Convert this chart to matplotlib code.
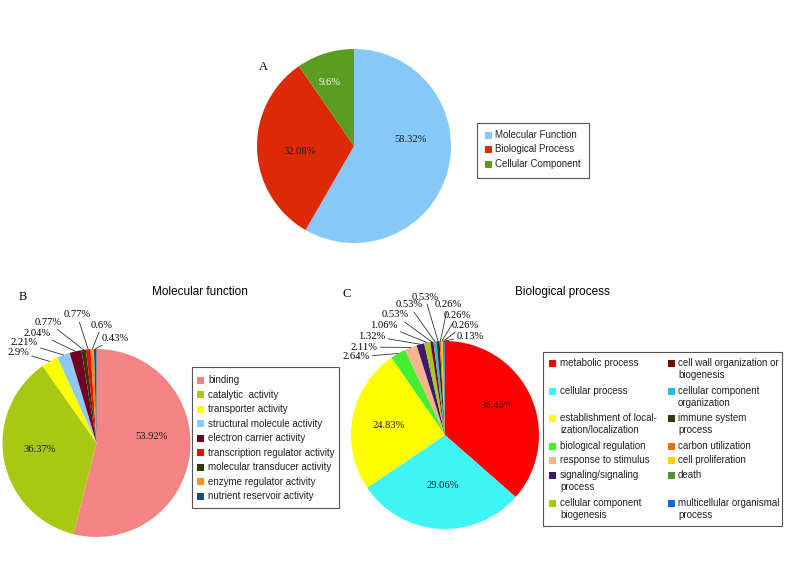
import numpy as np
import matplotlib
matplotlib.use('Agg')
import matplotlib.pyplot as plt
from matplotlib.patches import Rectangle

# ---- data ----
overview_labels = ['Molecular Function', 'Biological Process', 'Cellular Component']
overview_values = [58.32, 32.08, 9.6]
overview_colors = ['#86c9f9', '#dc2a06', '#5b9d21']

mf_labels = ['binding', 'catalytic  activity', 'transporter activity',
             'structural molecule activity', 'electron carrier activity',
             'transcription regulator activity', 'molecular transducer activity',
             'enzyme regulator activity', 'nutrient reservoir activity']
mf_values = [53.92, 36.37, 2.9, 2.21, 2.04, 0.77, 0.77, 0.6, 0.43]
mf_colors = ['#f48484', '#a9c814', '#ffff00', '#8ec9f6', '#720022',
             '#ff0000', '#2e3a0c', '#f7941d', '#1b4a8a']
mf_pie_order = [0, 1, 2, 3, 4, 6, 5, 7, 8]  # slice order seen in the pie

bp_labels = ['metabolic process', 'cellular process',
             'establishment of local-\nization/localization', 'biological regulation',
             'response to stimulus', 'signaling/signaling\nprocess',
             'cellular component\nbiogenesis',
             'cell wall organization or\nbiogenesis', 'cellular component\norganization',
             'immune system\nprocess', 'carbon utilization', 'cell proliferation',
             'death', 'multicellular organismal\nprocess']
bp_values = [36.46, 29.06, 24.83, 2.64, 2.11, 1.32, 1.06,
             0.53, 0.53, 0.53, 0.26, 0.26, 0.26, 0.13]
bp_colors = ['#ff0000', '#40f4f4', '#ffff00', '#44ee33', '#f8b48e', '#3b1b6e',
             '#a8c814', '#7a0000', '#2eb8e0', '#2c3c10', '#f06a10', '#ffcc22',
             '#5a9030', '#1068d0']

W, H = 785, 588
SERIF = 'Liberation Serif'
SANS = 'Liberation Sans'

fig = plt.figure(figsize=(W / 100, H / 100), dpi=100)
fig.patch.set_facecolor('white')

# overlay in pixel units for legends and titles
ov = fig.add_axes([0, 0, 1, 1])
ov.set_xlim(0, W)
ov.set_ylim(H, 0)
ov.axis('off')


def draw_pie(cx, cy, r, values, colors, inner_pos, inner_colors, outer_pos):
    ax = fig.add_axes([(cx - r) / W, 1 - (cy + r) / H, 2 * r / W, 2 * r / H])
    wedges, _ = ax.pie(values, colors=colors, startangle=90, counterclock=False,
                       wedgeprops=dict(linewidth=0))
    ax.set_xlim(-1, 1)
    ax.set_ylim(-1, 1)
    ax.axis('off')
    n_in = len(inner_pos)
    for i, w in enumerate(wedges):
        txt = f'{values[i]:g}%'
        if i < n_in:
            ax.text(inner_pos[i][0], inner_pos[i][1], txt, ha='center', va='center',
                    fontsize=7.6, family=SERIF, color=inner_colors[i])
        else:
            mid = np.deg2rad((w.theta1 + w.theta2) / 2)
            ax.annotate(txt, xy=(np.cos(mid), np.sin(mid)), xytext=outer_pos[i - n_in],
                        ha='center', va='center', fontsize=7.6, family=SERIF,
                        annotation_clip=False,
                        arrowprops=dict(arrowstyle='-', lw=0.6, color='#333333',
                                        shrinkA=0, shrinkB=0))
    return ax


def legend_rows(x_sq, x_txt, rows_y, labels, colors):
    for y, lab, c in zip(rows_y, labels, colors):
        ov.add_patch(Rectangle((x_sq, y - 3.5), 7, 7, color=c, lw=0))
        for k, line in enumerate(lab.split('\n')):
            ov.text(x_txt, y + 12 * k, line, ha='left', va='center',
                    fontsize=7.0, family=SANS, color='#222222')


def legend_box(x0, y0, x1, y1):
    ov.add_patch(Rectangle((x0, y0), x1 - x0, y1 - y0, fill=False,
                           ec='#555555', lw=0.8))


# ---- A: overview ----
draw_pie(354, 146, 97, overview_values, overview_colors,
         [(0.58, 0.07), (-0.56, -0.06), (-0.25, 0.65)],
         ['#1a1a1a', '#1a1a1a', 'white'], [])
legend_box(477, 123, 589, 178)
legend_rows(485, 495, [135, 149.5, 164], overview_labels, overview_colors)
ov.text(263, 67, 'A', ha='center', va='center', fontsize=9, family=SERIF)

# ---- B: molecular function ----
mf_outer = [(-0.835, 0.968), (-0.77, 1.064), (-0.633, 1.17), (-0.516, 1.287),
            (-0.207, 1.362), (0.059, 1.255), (0.197, 1.117)]
draw_pie(96.5, 443, 94, [mf_values[i] for i in mf_pie_order],
         [mf_colors[i] for i in mf_pie_order],
         [(0.59, 0.064), (-0.60, -0.07)], ['#1a1a1a', '#1a1a1a'], mf_outer)
legend_box(192, 367, 339, 508)
legend_rows(197, 208, [380 + 14.55 * k for k in range(len(mf_labels))],
            mf_labels, mf_colors)
ov.text(200, 292, 'Molecular function', ha='center', va='center', fontsize=8.5, family=SANS)
ov.text(23, 297, 'B', ha='center', va='center', fontsize=9, family=SERIF)

# ---- C: biological process ----
bp_outer = [(-0.947, 0.83), (-0.862, 0.936), (-0.777, 1.053), (-0.649, 1.17),
            (-0.532, 1.277), (-0.383, 1.383), (-0.213, 1.468), (0.032, 1.383),
            (0.128, 1.266), (0.213, 1.17), (0.266, 1.053)]
draw_pie(445, 435, 94, bp_values, bp_colors,
         [(0.553, 0.309), (-0.02, -0.54), (-0.596, 0.096)],
         ['#3a0000', '#1a1a1a', '#1a1a1a'], bp_outer)
legend_box(543, 352, 782, 526)
bp_rows = [363, 391, 418, 446, 460, 475, 503]
legend_rows(549, 560, bp_rows, bp_labels[:7], bp_colors[:7])
legend_rows(668, 678, bp_rows, bp_labels[7:], bp_colors[7:])
ov.text(562, 292, 'Biological process', ha='center', va='center', fontsize=8.5, family=SANS)
ov.text(347, 294, 'C', ha='center', va='center', fontsize=9, family=SERIF)

fig.savefig('out.png', dpi=100)
